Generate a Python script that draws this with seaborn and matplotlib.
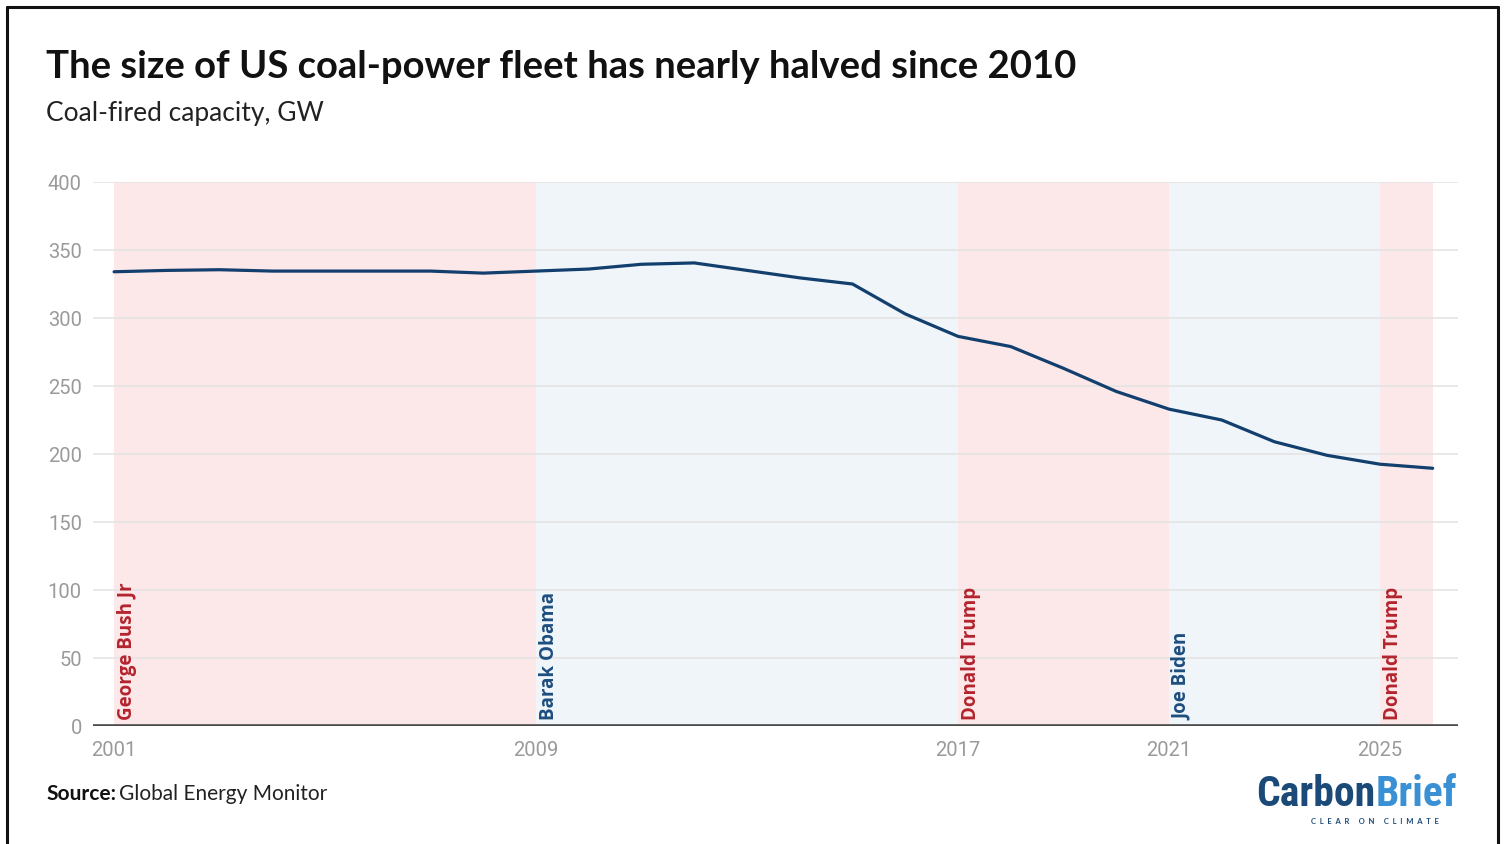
import matplotlib
matplotlib.use("Agg")
import matplotlib.pyplot as plt
from matplotlib.lines import Line2D
import seaborn as sns
import pandas as pd

# ---- data ----
years = list(range(2001, 2027))
capacity_gw = [334, 335, 335.5, 334.5, 334.5, 334.5, 334.5, 333, 334.5, 336,
               339.5, 340.5, 335, 329.5, 325, 303, 286.5, 279, 263, 246,
               233, 225, 209, 199, 192.5, 189.5]

term_starts = [2001, 2009, 2017, 2021, 2025]
term_ends = [2009, 2017, 2021, 2025, 2026]
presidents = ["George Bush Jr", "Barak Obama", "Donald Trump", "Joe Biden", "Donald Trump"]
parties = ["R", "D", "R", "D", "R"]

y_ticks = [0, 50, 100, 150, 200, 250, 300, 350, 400]
x_ticks = [2001, 2009, 2017, 2021, 2025]

title = "The size of US coal-power fleet has nearly halved since 2010"
subtitle = "Coal-fired capacity, GW"

# ---- style ----
sns.set_theme(style="white")
plt.rcParams["font.family"] = ["Lato", "DejaVu Sans"]

span_colors = {"R": "#fde8e9", "D": "#f0f5f9"}
label_colors = {"R": "#b3232d", "D": "#1d4e7e"}
line_color = "#123f6e"

fig = plt.figure(figsize=(15.06, 8.45), dpi=100)
ax = fig.add_axes([93 / 1506, 1 - 727 / 845, (1458 - 93) / 1506, (727 - 183) / 845])

for s, e, p in zip(term_starts, term_ends, parties):
    ax.axvspan(s, e, ymin=0, ymax=1, color=span_colors[p], lw=0, zorder=0)

for t in y_ticks[1:]:
    ax.axhline(t, color="#e4e4e4", lw=1.2, zorder=1)

df = pd.DataFrame({"year": years, "capacity": capacity_gw})
sns.lineplot(data=df, x="year", y="capacity", ax=ax, color=line_color, lw=2.3, zorder=3)

ax.axhline(0, color="#4a4a4a", lw=2.6, zorder=4)

for s, name, p in zip(term_starts, presidents, parties):
    ax.text(s + 0.24, 5, name, rotation=90, ha="center", va="bottom",
            color=label_colors[p], fontsize=13.5, fontweight="bold",
            family=["Open Sans", "DejaVu Sans"], zorder=5)

ax.set_xlim(2000.6, 2026.48)
ax.set_ylim(0, 400)
ax.set_xticks(x_ticks)
ax.set_yticks(y_ticks)
ax.set_xlabel("")
ax.set_ylabel("")
for sp in ax.spines.values():
    sp.set_visible(False)
ax.tick_params(axis="both", length=0, labelsize=14.5, labelcolor="#9a9a9a")
ax.tick_params(axis="y", pad=8)
ax.tick_params(axis="x", pad=10)
for lab in ax.get_xticklabels() + ax.get_yticklabels():
    lab.set_family(["Roboto", "DejaVu Sans"])

# ---- texts ----
fig.text(46 / 1506, 1 - 67 / 845, title, fontsize=27.5, fontweight="bold",
         color="#111111", va="center", ha="left")
fig.text(46 / 1506, 1 - 113 / 845, subtitle, fontsize=19,
         color="#222222", va="center", ha="left")

src = fig.text(46 / 1506, 1 - 794 / 845, "Source:", fontsize=15, fontweight="bold",
               color="#111111", va="center", ha="left")
fig.canvas.draw()
bb = src.get_window_extent()
fig.text(bb.x1 / 1506 + 3 / 1506, 1 - 794 / 845, "Global Energy Monitor", fontsize=15,
         color="#222222", va="center", ha="left")

# logo
logo_font = ["Liberation Sans Narrow", "Roboto Condensed", "DejaVu Sans"]
c = fig.text(1256 / 1506, 1 - 795 / 845, "Carbon", fontsize=30, fontweight="bold",
             color="#1b4a78", va="center", ha="left", family=logo_font)
fig.canvas.draw()
cb = c.get_window_extent()
fig.text(cb.x1 / 1506, 1 - 795 / 845, "Brief", fontsize=30, fontweight="bold",
         color="#3a90d4", va="center", ha="left", family=logo_font)
fig.text(1375 / 1506, 1 - 822 / 845, "C  L  E  A  R     O  N     C  L  I  M  A  T  E", fontsize=5.5,
         fontweight="bold", color="#1b4a78", va="center", ha="center")

# border
fig.add_artist(Line2D([7 / 1506, 7 / 1506], [-0.01, 1 - 8 / 845], color="#111111", lw=2.2,
                      transform=fig.transFigure))
fig.add_artist(Line2D([1498 / 1506, 1498 / 1506], [-0.01, 1 - 8 / 845], color="#111111", lw=2.2,
                      transform=fig.transFigure))
fig.add_artist(Line2D([7 / 1506, 1498 / 1506], [1 - 8 / 845, 1 - 8 / 845], color="#111111", lw=2.2,
                      transform=fig.transFigure))

fig.savefig("out.png", dpi=100)
